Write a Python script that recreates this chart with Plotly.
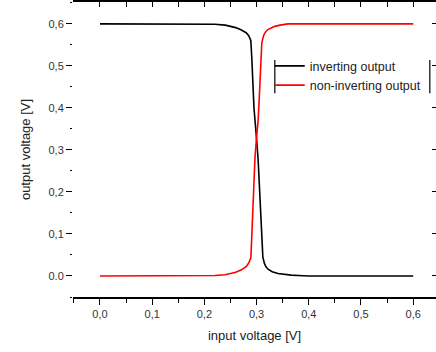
import plotly.graph_objects as go

inv_x = [0.0, 0.05, 0.1, 0.15, 0.2, 0.22, 0.24, 0.26, 0.27, 0.28, 0.285, 0.289, 0.291, 0.293,
         0.295, 0.297, 0.299, 0.301, 0.303, 0.305, 0.308, 0.31, 0.312, 0.315, 0.318, 0.322,
         0.33, 0.341, 0.35, 0.366, 0.38, 0.4, 0.45, 0.5, 0.55, 0.6]
inv_y = [0.6, 0.6, 0.6, 0.6, 0.6, 0.599, 0.597, 0.591, 0.586, 0.579, 0.572, 0.56, 0.514, 0.45,
         0.40, 0.37, 0.345, 0.31, 0.276, 0.22, 0.126, 0.08, 0.045, 0.03, 0.022, 0.016,
         0.01, 0.006, 0.004, 0.002, 0.001, 0.0, 0.0, 0.0, 0.0, 0.0]

non_x = [0.0, 0.05, 0.1, 0.15, 0.2, 0.22, 0.24, 0.26, 0.27, 0.28, 0.285, 0.289, 0.291, 0.293,
         0.295, 0.297, 0.300, 0.303, 0.305, 0.307, 0.309, 0.310, 0.312, 0.314, 0.318, 0.322,
         0.328, 0.335, 0.345, 0.36, 0.38, 0.4, 0.45, 0.5, 0.55, 0.6]
non_y = [0.0, 0.0, 0.0, 0.0, 0.0, 0.001, 0.003, 0.009, 0.014, 0.022, 0.031, 0.043, 0.10, 0.164,
         0.22, 0.283, 0.33, 0.371, 0.42, 0.474, 0.52, 0.555, 0.565, 0.574, 0.582, 0.587,
         0.59, 0.594, 0.597, 0.6, 0.6, 0.6, 0.6, 0.6, 0.6, 0.6]

x_tickvals = [0.0, 0.1, 0.2, 0.3, 0.4, 0.5, 0.6]
x_ticktext = ["0,0", "0,1", "0,2", "0,3", "0,4", "0,5", "0,6"]
y_tickvals = [0.0, 0.1, 0.2, 0.3, 0.4, 0.5, 0.6]
y_ticktext = ["0.0", "0,1", "0,2", "0,3", "0,4", "0,5", "0,6"]

FONT = "Liberation Sans, Arial, sans-serif"
XR = [-0.0517, 0.6437]
YR = [-0.05, 0.652]

fig = go.Figure()
fig.add_trace(go.Scatter(x=inv_x, y=inv_y, mode="lines", name="inverting output",
                         line=dict(color="#000000", width=1.6)))
fig.add_trace(go.Scatter(x=non_x, y=non_y, mode="lines", name="non-inverting output",
                         line=dict(color="#ff0000", width=1.6)))
# invisible trace to activate mirror axes
fig.add_trace(go.Scatter(x=[None], y=[None], xaxis="x2", yaxis="y2", showlegend=False))

fig.update_layout(
    width=436, height=352,
    margin=dict(l=73, r=0, t=2, b=55),
    paper_bgcolor="white", plot_bgcolor="white",
    font=dict(family=FONT, color="#333333"),
    showlegend=True,
    legend=dict(x=0.542, y=0.833, xanchor="left", yanchor="top",
                bgcolor="rgba(0,0,0,0)", borderwidth=0,
                font=dict(size=12.5, color="#222222"),
                itemwidth=30, tracegroupgap=0),
    xaxis=dict(range=XR, tickvals=x_tickvals, ticktext=x_ticktext,
               ticks="outside", ticklen=6, tickwidth=1, tickcolor="#000",
               showline=True, linecolor="#000", linewidth=1.5,
               showgrid=False, zeroline=False,
               minor=dict(dtick=0.05, tick0=0, ticks="outside", ticklen=4, tickcolor="#000"),
               tickfont=dict(size=11, color="#333333"),
               title=dict(text="input voltage [V]", font=dict(size=13, color="#222222"), standoff=12)),
    yaxis=dict(range=YR, tickvals=y_tickvals, ticktext=y_ticktext,
               ticks="outside", ticklen=6, tickwidth=1, tickcolor="#000",
               showline=False, showgrid=False, zeroline=False,
               minor=dict(dtick=0.05, tick0=0, ticks="outside", ticklen=2, tickcolor="#000"),
               tickfont=dict(size=11, color="#333333"),
               title=dict(text="output voltage [V]", font=dict(size=13, color="#222222"), standoff=14)),
    xaxis2=dict(range=XR, overlaying="x", side="top", showticklabels=False,
                tickvals=[v / 20 for v in range(-1, 14)],
                ticks="inside", ticklen=5, tickcolor="#000",
                showline=True, linecolor="#000", linewidth=1.5,
                showgrid=False, zeroline=False),
    yaxis2=dict(range=YR, overlaying="y", side="right", showticklabels=False,
                tickvals=y_tickvals, ticks="inside", ticklen=4, tickcolor="#000",
                showline=False, showgrid=False, zeroline=False),
    shapes=[
        dict(type="line", xref="paper", yref="paper", x0=0.556, x1=0.556, y0=0.803, y1=0.691,
             line=dict(color="#000", width=1.2)),
        dict(type="line", xref="paper", yref="paper", x0=0.983, x1=0.983, y0=0.803, y1=0.691,
             line=dict(color="#000", width=1.2)),
    ],
)

fig.write_html("out.html", config={"displayModeBar": False},
               post_script="document.body.style.margin='0';")
